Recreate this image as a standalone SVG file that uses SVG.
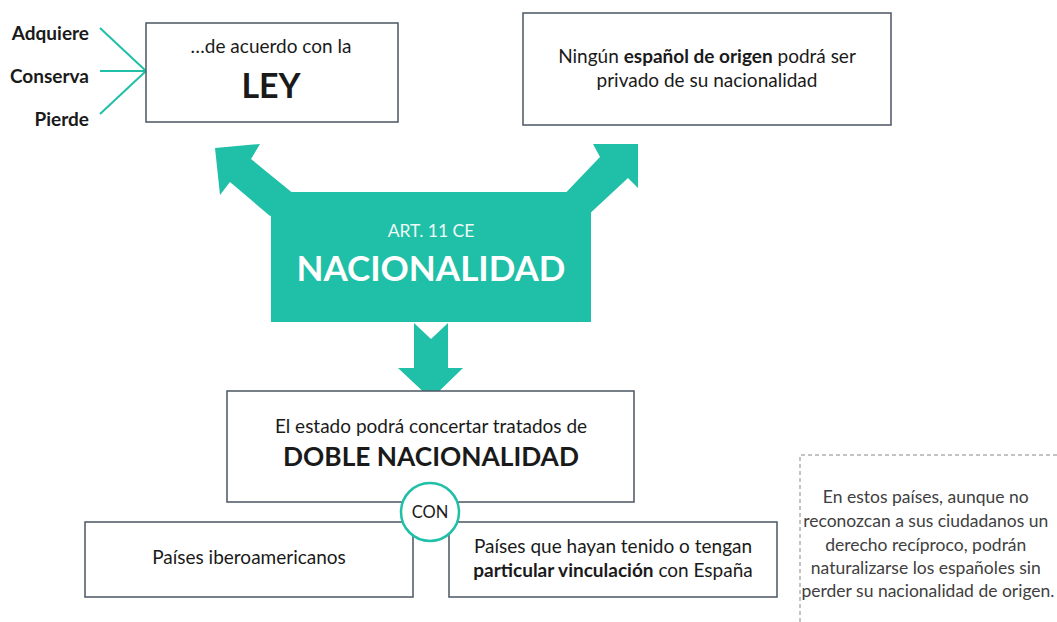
<svg xmlns="http://www.w3.org/2000/svg" width="1057" height="622" viewBox="0 0 1057 622">
<style>
.box{fill:#fff;stroke:#4b5563;stroke-width:1.5}
.t{font-family:Lato,"Liberation Sans",sans-serif;fill:#1a1a1a;text-anchor:middle}
.b{font-weight:bold}
.lbl{font-family:Lato,"Liberation Sans",sans-serif;fill:#1a1a1a;font-weight:bold;font-size:19px;text-anchor:end}
.teal{fill:#20bfa7}
.tl{stroke:#20bfa7;stroke-width:2;fill:none}
</style>
<rect width="1057" height="622" fill="#fff"/>
<g id="connectors">
<line class="tl" x1="100" y1="28" x2="146" y2="71"/>
<line class="tl" x1="100" y1="71" x2="146" y2="71"/>
<line class="tl" x1="100" y1="114" x2="146" y2="71"/>
<polygon class="teal" points="215,148 260,144 251,159 300,199 270,216 230,182 220,195"/>
<polygon class="teal" points="638,144 638,188 628,178 585,218 555,204 600,157 593,144"/>
<polygon class="teal" points="414,323 431,339 448,323 448,368 463,368 431,399 398,368 414,368"/>
</g>
<g id="labels">
<text class="lbl" x="89" y="40">Adquiere</text>
<text class="lbl" x="89" y="83">Conserva</text>
<text class="lbl" x="89" y="126">Pierde</text>
</g>
<g id="ley">
<rect class="box" x="146" y="23" width="252" height="99"/>
<text class="t" x="271" y="53" font-size="19">…de acuerdo con la</text>
<text class="t b" x="271" y="98" font-size="34">LEY</text>
</g>
<g id="origen">
<rect class="box" x="523" y="13" width="368" height="112"/>
<text class="t" x="707" y="63" font-size="19">Ningún <tspan font-weight="bold">español de origen</tspan> podrá ser</text>
<text class="t" x="707" y="87" font-size="19">privado de su nacionalidad</text>
</g>
<g id="nacionalidad">
<rect class="teal" x="271" y="192" width="320" height="130"/>
<text class="t" x="431" y="237" font-size="17.5" style="fill:#eefaf7">ART. 11 CE</text>
<text class="t b" x="431" y="281" font-size="35" style="fill:#fff">NACIONALIDAD</text>
</g>
<g id="doble">
<rect class="box" x="227" y="391" width="407" height="111"/>
<text class="t" x="431" y="433" font-size="19">El estado podrá concertar tratados de</text>
<text class="t b" x="431" y="466" font-size="26.3">DOBLE NACIONALIDAD</text>
</g>
<g id="iberoamericanos">
<rect class="box" x="85" y="522" width="328" height="75"/>
<text class="t" x="249" y="564" font-size="19">Países iberoamericanos</text>
</g>
<g id="vinculacion">
<rect class="box" x="449" y="522" width="328" height="75"/>
<text class="t" x="613" y="553" font-size="19">Países que hayan tenido o tengan</text>
<text class="t" x="613" y="577" font-size="19"><tspan font-weight="bold">particular vinculación</tspan> con España</text>
</g>
<g id="con">
<circle cx="430" cy="512" r="29" fill="#fff" stroke="#20bfa7" stroke-width="2.5"/>
<text class="t" x="430" y="518" font-size="16.5">CON</text>
</g>
<g id="nota">
<path d="M800,622 V455 H1057" fill="none" stroke="#888" stroke-width="1" stroke-dasharray="4,3"/>
<text class="t" font-size="17.5" style="fill:#404040">
<tspan x="928" y="503">En estos países, aunque no</tspan>
<tspan x="928" y="527">reconozcan a sus ciudadanos un</tspan>
<tspan x="928" y="551">derecho recíproco, podrán</tspan>
<tspan x="928" y="574">naturalizarse los españoles sin</tspan>
<tspan x="928" y="597">perder su nacionalidad de origen.</tspan>
</text>
</g>
</svg>
